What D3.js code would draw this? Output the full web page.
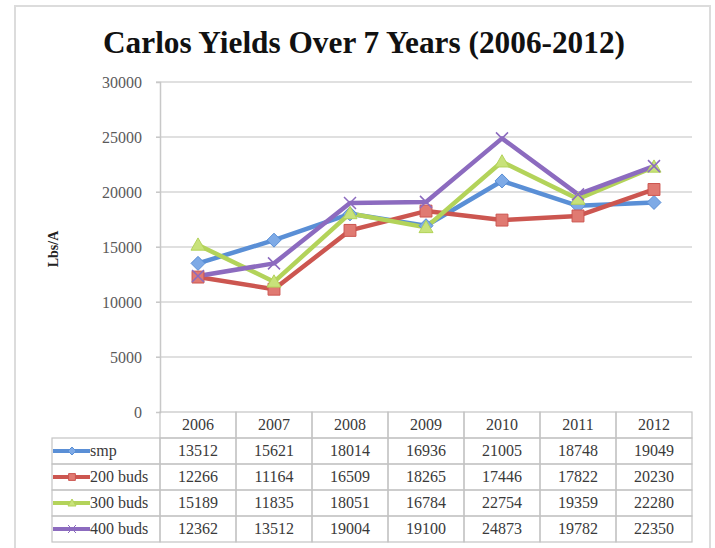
<!DOCTYPE html>
<html>
<head>
<meta charset="utf-8">
<script src="https://cdn.jsdelivr.net/npm/d3@7"></script>
<style>
  body { margin: 0; background: #fff; }
  text { font-family: "Liberation Serif", serif; }
</style>
</head>
<body>
<svg id="chart" width="715" height="548"></svg>
<script>
/* Carlos yields line chart with data table underneath (Excel style) */

const years = ["2006", "2007", "2008", "2009", "2010", "2011", "2012"];
const seriesNames = ["smp", "200 buds", "300 buds", "400 buds"];
const smp     = [13512, 15621, 18014, 16936, 21005, 18748, 19049];
const buds200 = [12266, 11164, 16509, 18265, 17446, 17822, 20230];
const buds300 = [15189, 11835, 18051, 16784, 22754, 19359, 22280];
const buds400 = [12362, 13512, 19004, 19100, 24873, 19782, 22350];
const yTicks  = [0, 5000, 10000, 15000, 20000, 25000, 30000];

const seriesValues = [smp, buds200, buds300, buds400];
const colors  = ["#5a8fd6", "#cc5650", "#b3d35a", "#8c6bbf"];
const fills   = ["#7eaae6", "#e07a72", "#c8e27a", "#a88dd0"];
const markers = ["diamond", "square", "triangle", "cross"];

const svg = d3.select("#chart");

// outer frame
svg.append("rect").attr("x", 15).attr("y", 6).attr("width", 695).attr("height", 560)
   .attr("fill", "#fff").attr("stroke", "#dcdcdc").attr("stroke-width", 2);

// title
svg.append("text").attr("x", 364).attr("y", 53).attr("text-anchor", "middle")
   .attr("font-size", 31).attr("font-weight", "bold").attr("fill", "#111")
   .attr("textLength", 522).attr("lengthAdjust", "spacingAndGlyphs")
   .text("Carlos Yields Over 7 Years (2006-2012)");

const x = d3.scaleBand().domain(years).range([160, 692]);
const y = d3.scaleLinear().domain([0, 30000]).range([412, 82]);
const cx = yr => x(yr) + x.bandwidth() / 2;

// gridlines
svg.append("g").selectAll("line").data(yTicks.filter(t => t > 0)).join("line")
   .attr("x1", 156).attr("x2", 692).attr("y1", d => y(d)).attr("y2", d => y(d))
   .attr("stroke", "#d6d6d6").attr("stroke-width", 1.5);

// y axis (labels only, Excel look)
const yAxis = svg.append("g").attr("transform", "translate(160,0)")
   .call(d3.axisLeft(y).tickValues(yTicks).tickSize(4).tickPadding(14).tickFormat(d3.format("d")));
yAxis.select(".domain").attr("stroke", "#c8c8c8").attr("stroke-width", 1.5);
yAxis.selectAll(".tick line").attr("stroke", "#c8c8c8");
yAxis.selectAll(".tick text").attr("font-family", "Liberation Serif, serif")
     .attr("font-size", 16).attr("fill", "#5a5a5a");

// y title
svg.append("text").attr("transform", "translate(58,249) rotate(-90)")
   .attr("text-anchor", "middle").attr("font-size", 14).attr("font-weight", "bold")
   .attr("fill", "#222").text("Lbs/A");

// marker symbols (diamond = square turned 45 degrees, as in Excel)
function markerPath(kind, r){
  if (kind === "diamond") return `M0,${-r}L${r},0L0,${r}L${-r},0Z`;
  if (kind === "square") return `M${-r * 0.85},${-r * 0.85}h${r * 1.7}v${r * 1.7}h${-r * 1.7}Z`;
  if (kind === "triangle") return `M0,${-r}L${r},${r * 0.75}L${-r},${r * 0.75}Z`;
  return `M${-r},${-r}L${r},${r}M${-r},${r}L${r},${-r}`;
}

// lines + markers
const line = d3.line().x((d, i) => cx(years[i])).y(d => y(d));
seriesValues.forEach((vals, s) => {
  svg.append("path").datum(vals).attr("d", line)
     .attr("fill", "none").attr("stroke", colors[s]).attr("stroke-width", 4.5)
     .attr("stroke-linejoin", "round");
});
seriesValues.forEach((vals, s) => {
  const cross = markers[s] === "cross";
  svg.append("g").selectAll("path").data(vals).join("path")
   .attr("transform", (d, i) => `translate(${cx(years[i])},${y(d)})`)
   .attr("d", markerPath(markers[s], cross ? 6 : 7))
   .attr("fill", cross ? "none" : fills[s])
   .attr("stroke", colors[s])
   .attr("stroke-width", cross ? 1.5 : 1);
});

// data table
const rowTop = 412, rowH = 26;
const tbl = svg.append("g");
const gridCol = "#c4c4c4";

// header row
years.forEach(yr => {
  tbl.append("rect").attr("x", x(yr)).attr("y", rowTop).attr("width", x.bandwidth()).attr("height", rowH)
     .attr("fill", "none").attr("stroke", gridCol).attr("stroke-width", 1.2);
  tbl.append("text").attr("x", cx(yr)).attr("y", rowTop + rowH / 2 + 5).attr("text-anchor", "middle")
     .attr("font-size", 16).attr("fill", "#3a3a3a").text(yr);
});

seriesNames.forEach((name, s) => {
  const top = rowTop + rowH * (s + 1);
  const mid = top + rowH / 2;
  const cross = markers[s] === "cross";
  tbl.append("rect").attr("x", 52).attr("y", top).attr("width", 108).attr("height", rowH)
     .attr("fill", "none").attr("stroke", gridCol).attr("stroke-width", 1.2);
  // legend key
  tbl.append("line").attr("x1", 53).attr("x2", 90).attr("y1", mid).attr("y2", mid)
     .attr("stroke", colors[s]).attr("stroke-width", 4);
  tbl.append("path").attr("transform", `translate(72,${mid})`)
     .attr("d", markerPath(markers[s], 4))
     .attr("fill", cross ? "none" : fills[s])
     .attr("stroke", colors[s]).attr("stroke-width", 1);
  tbl.append("text").attr("x", 90).attr("y", mid + 5).attr("font-size", 16)
     .attr("fill", "#3a3a3a").text(name);
  seriesValues[s].forEach((v, i) => {
    tbl.append("rect").attr("x", x(years[i])).attr("y", top).attr("width", x.bandwidth()).attr("height", rowH)
       .attr("fill", "none").attr("stroke", gridCol).attr("stroke-width", 1.2);
    tbl.append("text").attr("x", cx(years[i])).attr("y", mid + 5).attr("text-anchor", "middle")
       .attr("font-size", 16).attr("fill", "#3a3a3a").text(v);
  });
});
</script>
</body>
</html>
